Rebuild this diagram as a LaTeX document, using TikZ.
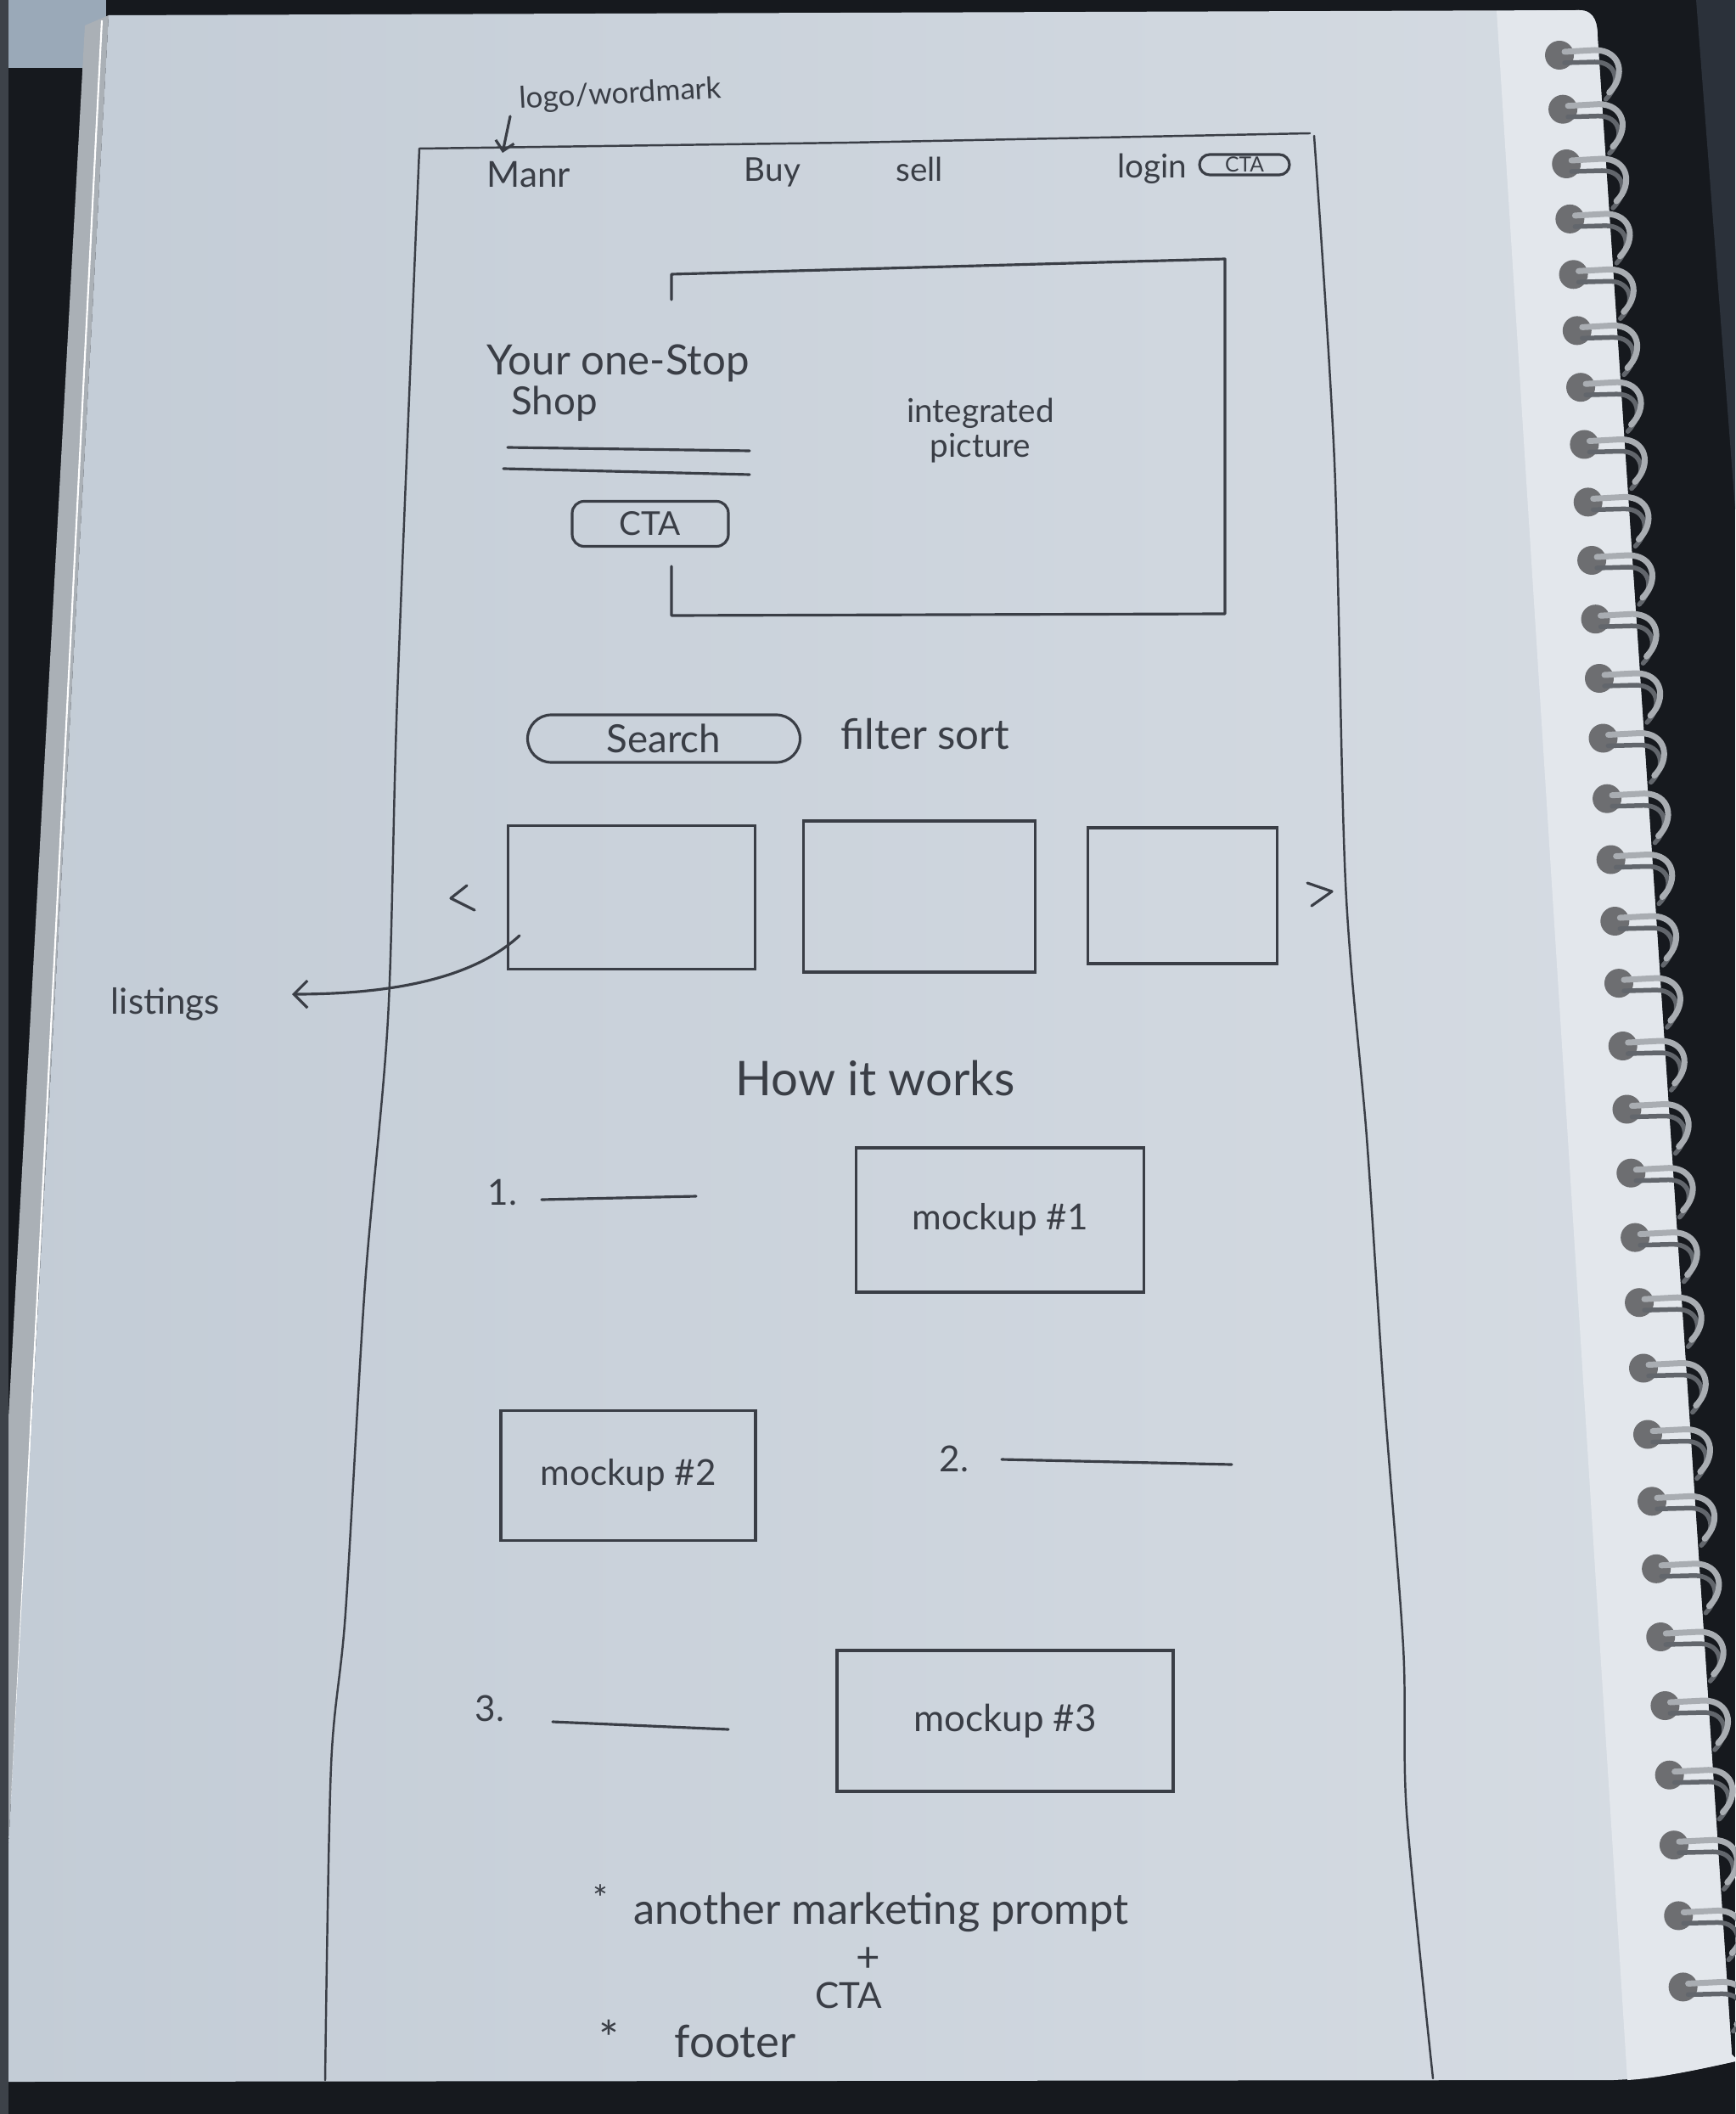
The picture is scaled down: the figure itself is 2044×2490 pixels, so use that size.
\documentclass[tikz,border=0pt]{standalone}
\usepackage{fontspec}
\setmainfont{Lato}
\usetikzlibrary{arrows.meta}
\definecolor{bgdark}{HTML}{16191E}
\definecolor{leftstrip}{HTML}{3D4249}
\definecolor{glass}{HTML}{9AA9B8}
\definecolor{slab}{HTML}{2B313A}
\definecolor{stackedge}{HTML}{AAB0B6}
\definecolor{paperL}{HTML}{C3CCD6}
\definecolor{paperR}{HTML}{D6DCE3}
\definecolor{paperB}{HTML}{E3E7EC}
\definecolor{pencil}{HTML}{3A3E46}
\definecolor{holec}{HTML}{6D6E71}
\definecolor{wireL}{HTML}{A9ADB2}
\definecolor{wireD}{HTML}{62666C}
\tikzset{
  hand/.style={font=\fontsize{#1pt}{#1pt}\selectfont, text=pencil, inner sep=0pt},
  pline/.style={draw=pencil, line width=0.9pt, line cap=round, line join=round},
  frameline/.style={draw=pencil, line width=0.7pt, line cap=round, line join=round},
  boxnode/.style={draw=pencil, line width=0.9pt, inner sep=0pt},
  pill/.style={draw=pencil, line width=0.9pt, inner sep=0pt, rounded corners=#1},
  barb/.style={-{Straight Barb[length=1.6mm,width=3.2mm]}},
  smallbarb/.style={-{Straight Barb[length=1.1mm,width=2.2mm]}}
}
\begin{document}
\begin{tikzpicture}[x=0.1mm,y=-0.1mm]
\useasboundingbox (0,0) rectangle (2044,2490);
% background
\fill[bgdark] (0,0) rectangle (2044,2490);
\fill[leftstrip] (0,0) rectangle (10,2490);
\fill[glass] (10,0) rectangle (125,80);
\fill[slab] (1998,0) -- (2044,0) -- (2044,600) -- cycle;
% page stack edge
\fill[stackedge] (100,30) -- (128,18) -- (10,2175) -- (10,1670) -- cycle;
\draw[white, line width=0.6pt] (120,24) -- (14,2120);
% paper face
\shade[left color=paperL, right color=paperR]
  (128,18) -- (1860,12) .. controls (1880,12) and (1882,30) .. (1882,45)
  -- (2040,2420) -- (2044,2424) -- (2044,2428)
  .. controls (1990,2440) and (1950,2448) .. (1900,2450)
  -- (10,2452) -- (10,2175) -- cycle;
\fill[paperB] (1763,13) -- (1860,12) .. controls (1880,12) and (1882,30) .. (1882,45)
  -- (2040,2420) -- (2044,2424) -- (2044,2428)
  .. controls (1990,2440) and (1950,2448) .. (1917,2450) -- cycle;
% spiral binding
\foreach \yy in {65,128.7,193.0,257.9,323.3,389.4,456.2,523.5,591.4,660.0,729.2,799.0,869.5,940.7,1012.5,1085.0,1158.1,1232.0,1306.5,1381.7,1457.6,1534.2,1611.5,1689.5,1768.3,1847.8,1928.0,2009.0,2090.7,2173.2,2256.4,2340.4}{
  \pgfmathsetmacro\hx{1837+(\yy-65)*0.064}
  \pgfmathsetmacro\ex{1882+(\yy-40)*0.066}
  \fill[holec] (\hx,\yy) circle (1.7mm);
  \draw[wireD, line width=0.55mm, line cap=round] (\hx+6,\yy+9) -- (\ex-5,\yy+8)
     .. controls (\ex+22,\yy+8) and (\ex+26,\yy+34) .. (\ex+8,\yy+52);
  \draw[wireL, line width=0.7mm, line cap=round] (\hx+6,\yy-4) -- (\ex-5,\yy-6)
     .. controls (\ex+26,\yy-6) and (\ex+32,\yy+24) .. (\ex+12,\yy+44);
}
% page frame of the wireframe
\draw[frameline] plot[smooth, tension=0.5] coordinates
  {(383,2450) (390,2080) (407,1900) (430,1513) (457,1200) (468,820) (494,175)};
\draw[frameline] (494,175) -- (1000,168) -- (1543,157);
\draw[frameline] plot[smooth, tension=0.5] coordinates
  {(1548,160) (1572,545) (1585,1040) (1610,1340) (1630,1640) (1653,1940) (1657,2135) (1688,2448)};
% header
\node[hand=10, rotate=3] (logo) at (731,112) {logo/wordmark};
\node[hand=12] (manr) at (623,206) {Manr};
\node[hand=11] (buy) at (910,203) {Buy};
\node[hand=11] (sell) at (1083,199) {sell};
\node[hand=11] (login) at (1357,199) {login};
\node[pill=1.2mm, minimum width=10.6mm, minimum height=2.4mm,
      font=\fontsize{7pt}{7pt}\selectfont, text=pencil] (navcta) at (1466,194) {CTA};
\coordinate (logotail) at (601,137);
\coordinate (logotip) at (592,180);
\draw[pline, smallbarb] (logotail) -- (logotip);
% hero
\node[hand=14] (hero1) at (728,428) {Your one-Stop};
\node[hand=13] (hero2) at (653,476) {Shop};
\draw[pline] (598,527) -- (883,531);
\draw[pline] (593,552) -- (883,559);
\node[pill=1.4mm, minimum width=18.4mm, minimum height=5.3mm,
      font=\fontsize{11pt}{11pt}\selectfont, text=pencil] (herocta) at (766,617) {CTA};
\coordinate (hb1) at (791,353);
\coordinate (hb2) at (791,323);
\coordinate (hb3) at (1443,305);
\coordinate (hb4) at (1443,723);
\coordinate (hb5) at (791,725);
\coordinate (hb6) at (791,667);
\draw[pline] (hb1) -- (hb2) -- (hb3) -- (hb4) -- (hb5) -- (hb6);
\node[hand=11, align=center, font=\fontsize{11pt}{11.5pt}\selectfont] (pic) at (1155,507) {integrated\\picture};
% search row
\node[pill=2.8mm, minimum width=32.1mm, minimum height=5.6mm,
      font=\fontsize{13pt}{13pt}\selectfont, text=pencil] (search) at (782,870) {Search};
\node[hand=14] (filtersort) at (1090,865) {filter sort};
% listings
\node[boxnode, minimum width=29.1mm, minimum height=16.9mm] (lb1) at (744,1057) {};
\node[boxnode, minimum width=27.3mm, minimum height=17.8mm] (lb2) at (1083,1056) {};
\node[boxnode, minimum width=22.3mm, minimum height=16.0mm] (lb3) at (1393,1055) {};
\coordinate (pv1) at (550,1043);
\coordinate (pv2) at (531,1058);
\coordinate (pv3) at (559,1072);
\draw[pline] (pv1) -- (pv2) -- (pv3);
\coordinate (nx1) at (1540,1040);
\coordinate (nx2) at (1569,1050);
\coordinate (nx3) at (1545,1067);
\draw[pline] (nx1) -- (nx2) -- (nx3);
\node[hand=12] (listings) at (195,1183) {listings};
\coordinate (lstart) at (612,1102);
\coordinate (ltip) at (344,1171);
\draw[pline, barb] (lstart) .. controls (560,1150) and (470,1171) .. (ltip);
% how it works
\node[hand=16] (how) at (1031,1270) {How it works};
\node[hand=12] (n1) at (592,1405) {1.};
\draw[pline] (638,1413) -- (820,1409);
\node[boxnode, minimum width=33.9mm, minimum height=17mm,
      font=\fontsize{12pt}{12pt}\selectfont, text=pencil] (mock1) at (1178,1437) {mockup \#1};
\node[boxnode, minimum width=30mm, minimum height=15.3mm,
      font=\fontsize{12pt}{12pt}\selectfont, text=pencil] (mock2) at (740,1738) {mockup \#2};
\node[hand=12] (n2) at (1124,1718) {2.};
\draw[pline] (1180,1719) -- (1451,1725);
\node[hand=12] (n3) at (577,2012) {3.};
\draw[pline] (651,2028) -- (858,2037);
\node[boxnode, minimum width=39.6mm, minimum height=16.6mm,
      font=\fontsize{12.5pt}{12.5pt}\selectfont, text=pencil] (mock3) at (1184,2027) {mockup \#3};
% bottom notes
\node[hand=12] (star1) at (707,2236) {*};
\node[hand=14.4] (prompt) at (1038,2252) {another marketing prompt};
\node[hand=14] (plus) at (1023,2308) {+};
\node[hand=12] (cta2) at (1000,2350) {CTA};
\node[hand=16] (star2) at (717,2400) {*};
\node[hand=15] (footer) at (866,2405) {footer};
\end{tikzpicture}
\end{document}
